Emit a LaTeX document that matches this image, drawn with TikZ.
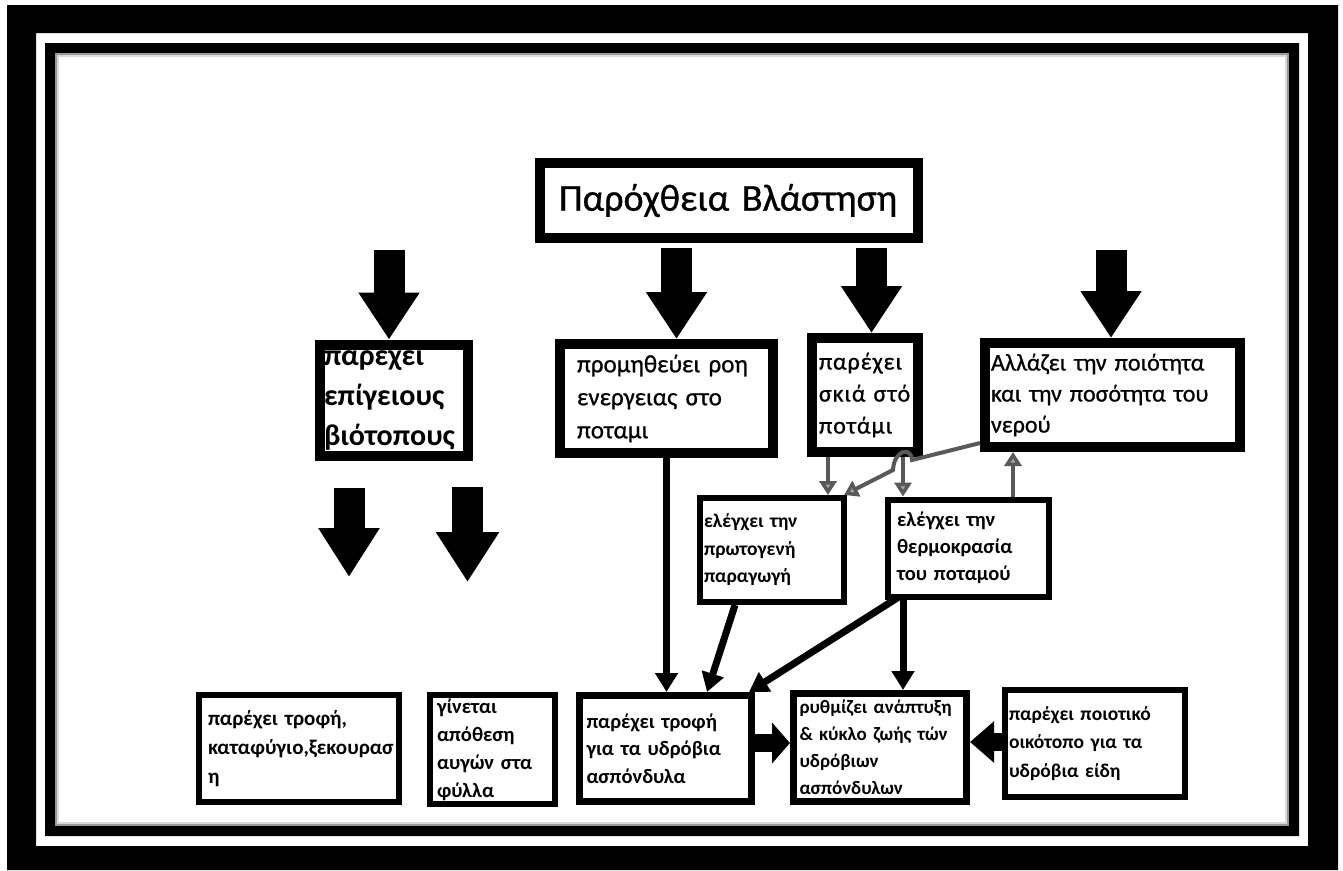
\documentclass[tikz,border=0pt]{standalone}
\usepackage{fontspec}
\setmainfont{Carlito}
\newfontfamily\heavyfont[FakeBold=0.8]{Carlito}
\newfontfamily\spacedfont[LetterSpace=4,FakeBold=0.8]{Carlito}
\usetikzlibrary{arrows.meta,calc}
\newcommand{\lnbox}[1]{\mbox{#1}}
\begin{document}
\begin{tikzpicture}[x=1pt,y=-1pt,
  box/.style={draw=black, fill=white, align=left, inner ysep=0pt, anchor=center},
  thickbox/.style={box, line width=10pt},
  thinbox/.style={box, line width=6pt},
  blockarrow/.style={line width=31pt, -{Triangle[length=47pt,width=58pt]}},
  sidearrow/.style={line width=18pt, -{Triangle[length=#1,width=40pt]}},
  conn/.style={line width=7pt, -{Triangle[length=19pt,width=22pt]}},
  gconn/.style={draw=black!65, line width=4pt, -{Triangle[length=14pt,width=17pt,fill=black!35]}},
]
\useasboundingbox (0,0) rectangle (1343,870);
% frames
\fill[black, even odd rule] (7,5) rectangle (1338,870) (36,33) rectangle (1308,846);
\fill[black, even odd rule] (45,43) rectangle (1299,836) (55,53) rectangle (1289,826);
\draw[black!40, line width=2pt] (56,54) rectangle (1288,825);
\draw[black!15, line width=2pt] (58,56) rectangle (1286,823);

% boxes
\node[thickbox, minimum width=378pt, minimum height=75pt, inner xsep=19pt, text width=340pt,
  font=\fontsize{38}{44}\heavyfont] (tit) at (729,200.5) {\lnbox{Παρόχθεια Βλάστηση}};
\node[thickbox, minimum width=148pt, minimum height=111pt, inner xsep=4pt, text width=140pt,
  font=\fontsize{30}{40}\selectfont\bfseries] (epi) at (394,400)
  {\lnbox{παρεχει}\\\lnbox{επίγειους}\\\lnbox{βιότοπους}};
\node[thickbox, minimum width=213pt, minimum height=109pt, inner xsep=17pt, text width=179pt,
  font=\fontsize{25}{33}\heavyfont] (prom) at (666.5,398.5)
  {\lnbox{προμηθεύει ροη}\\\lnbox{ενεργειας στο}\\\lnbox{ποταμι}};
\node[thickbox, minimum width=106pt, minimum height=114pt, inner xsep=7pt, text width=92pt,
  font=\fontsize{24}{32}\spacedfont] (skia) at (865,395)
  {\lnbox{παρέχει}\\\lnbox{σκιά στό}\\\lnbox{ποτάμι}};
\node[thickbox, minimum width=255pt, minimum height=104pt, inner xsep=6pt, text width=243pt,
  font=\fontsize{24}{31}\heavyfont] (alla) at (1112.5,395)
  {\lnbox{Αλλάζει την ποιότητα}\\\lnbox{και την ποσότητα του}\\\lnbox{νερού}};
\node[thinbox, minimum width=144pt, minimum height=104pt, inner xsep=4pt, text width=136pt,
  font=\fontsize{19.5}{27.5}\selectfont\bfseries] (prot) at (772,550)
  {\lnbox{ελέγχει την}\\\lnbox{πρωτογενή}\\\lnbox{παραγωγή}};
\node[thinbox, minimum width=161pt, minimum height=97pt, inner xsep=9pt, text width=143pt,
  font=\fontsize{20.5}{27}\selectfont\bfseries] (therm) at (968.5,548)
  {\lnbox{ελέγχει την}\\\lnbox{θερμοκρασία}\\\lnbox{του ποταμού}};
\node[thinbox, minimum width=200pt, minimum height=107pt, inner xsep=9pt, text width=182pt,
  font=\fontsize{21}{29}\selectfont\bfseries] (b1) at (299,748.5)
  {\lnbox{παρέχει τροφή,}\\\lnbox{καταφύγιο,ξεκουρασ}\\\lnbox{η}};
\node[thinbox, minimum width=125pt, minimum height=109pt, inner xsep=7pt, text width=111pt,
  font=\fontsize{20.5}{28}\selectfont\bfseries] (b2) at (492.5,749.5)
  {\lnbox{γίνεται}\\\lnbox{απόθεση}\\\lnbox{αυγών στα}\\\lnbox{φύλλα}};
\node[thinbox, line width=7pt, minimum width=172pt, minimum height=106pt, inner xsep=7pt, text width=158pt,
  font=\fontsize{20.5}{27.5}\selectfont\bfseries] (b3) at (665.5,748.5)
  {\lnbox{παρέχει τροφή}\\\lnbox{για τα υδρόβια}\\\lnbox{ασπόνδυλα}};
\node[thinbox, line width=7pt, minimum width=173pt, minimum height=108pt, inner xsep=6pt, text width=161pt,
  font=\fontsize{19}{27}\selectfont\bfseries] (b4) at (880,747.5)
  {\lnbox{ρυθμίζει ανάπτυξη}\\\lnbox{\& κύκλο ζωής τών}\\\lnbox{υδρόβιων}\\\lnbox{ασπόνδυλων}};
\node[thinbox, minimum width=180pt, minimum height=107pt, inner xsep=4pt, text width=172pt,
  font=\fontsize{19.5}{28.5}\selectfont\bfseries] (b5) at (1095,743.5)
  {\lnbox{παρέχει ποιοτικό}\\\lnbox{οικότοπο για τα}\\\lnbox{υδρόβια είδη}};

% block arrows
\coordinate (a1) at (389,250);
\coordinate (a2) at (676.5,248);
\coordinate (a3) at (871.5,248);
\coordinate (a4) at (1111,250);
\draw[blockarrow] (a1) -- (a1 |- epi.north);
\draw[blockarrow] (a2) -- (a2 |- prom.north);
\draw[blockarrow] (a3) -- (a3 |- skia.north);
\draw[blockarrow] (a4) -- (a4 |- alla.north);
\coordinate (a5s) at (349,488);
\coordinate (a5e) at (349,577);
\coordinate (a6s) at (467.5,487);
\coordinate (a6e) at (467.5,582);
\draw[blockarrow, -{Triangle[length=49pt,width=58pt]}] (a5s) -- (a5e);
\draw[blockarrow, -{Triangle[length=50pt,width=60pt]}] (a6s) -- (a6e);

% side arrows
\draw[sidearrow=18pt] ($(b3.east)+(0,-5.5)$) -- ($(b4.west)+(0,-4.5)$);
\draw[sidearrow=24pt] ($(b5.west)+(0,-1.5)$) -- ($(b4.east)+(0,-5.5)$);

% connector start points
\coordinate (c4) at ($(therm.south west)+(18,0)$);
\coordinate (g1) at ($(skia.south west)+(21,0)$);
\coordinate (g2) at ($(skia.south east)+(-20,0)$);
\coordinate (g3) at ($(therm.north west)+(128,0)$);
\coordinate (j1) at (912,460);
\coordinate (j2) at (893,470);

% black connectors
\draw[conn] (prom.south) -- (prom.south |- b3.north);
\draw[conn] ($(prot.south)+(-37,0)$) -- ($(b3.north)+(41.5,0)$);
\draw[conn] ($(therm.south west)+(13,-2)$) -- ($(b3.north east)+(-6,0)$);
\draw[conn] (c4) -- (c4 |- b4.north);

% gray connectors
\draw[gconn] (g1) -- (g1 |- prot.north);
\draw[gconn] (g2) -- (g2 |- therm.north);
\draw[gconn] (g3) -- (g3 |- alla.south);
\draw[gconn] ($(alla.south west)+(0,-9)$) -- (j1) .. controls (911,446) and (894,450) .. (j2) -- ($(prot.north east)+(-3,0)$);
\end{tikzpicture}
\end{document}
